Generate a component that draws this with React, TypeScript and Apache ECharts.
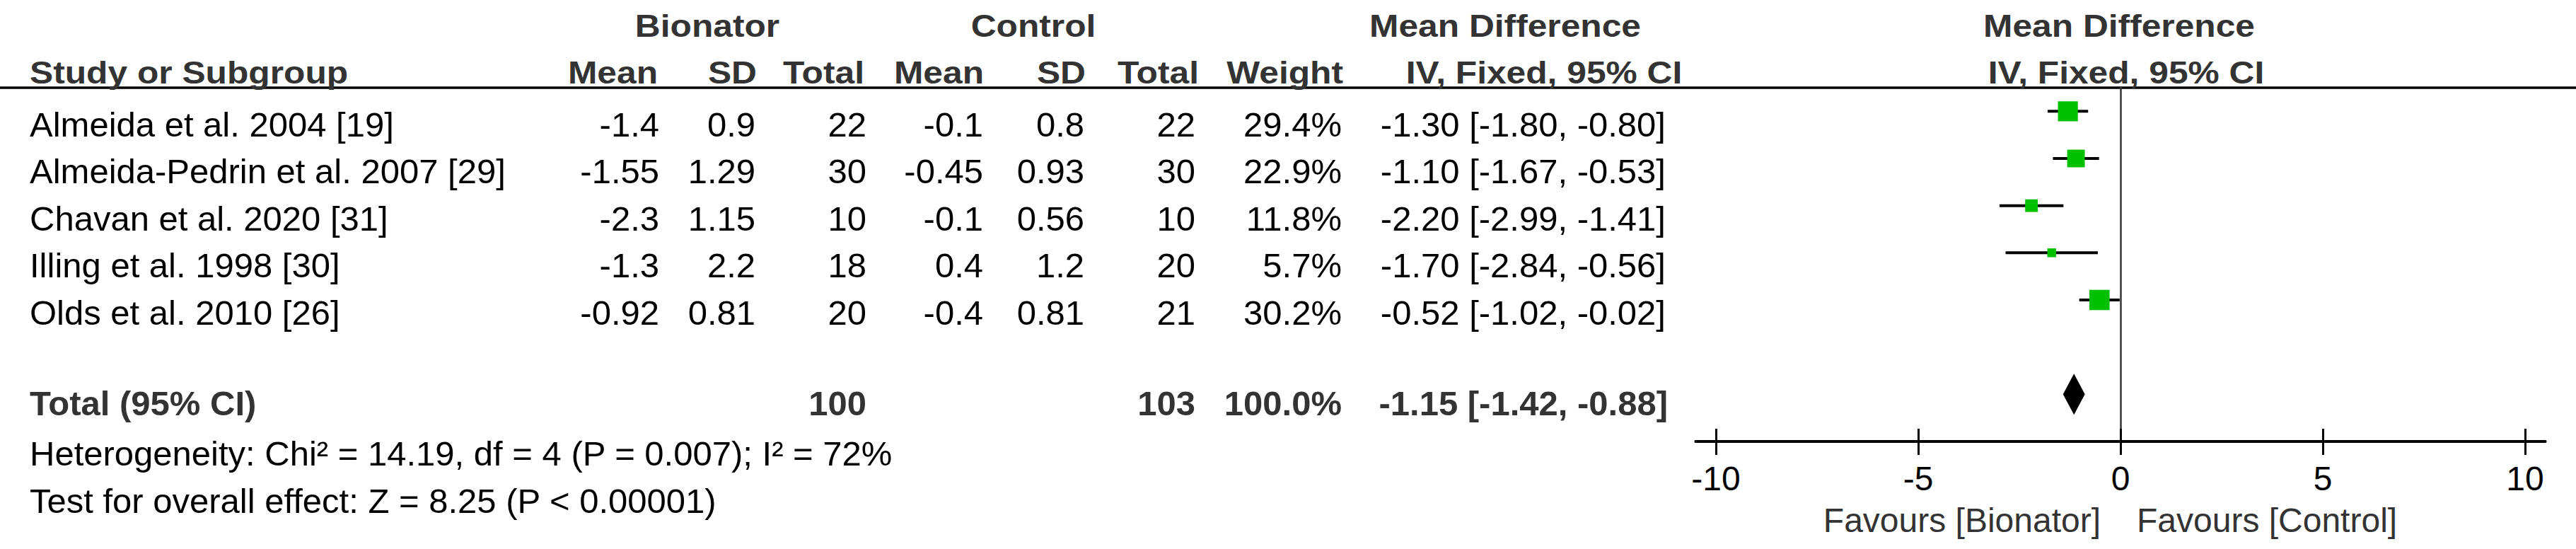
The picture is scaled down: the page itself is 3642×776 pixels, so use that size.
import React, { useEffect, useRef } from "react";
import * as echarts from "echarts";

const studies = [
  "Almeida et al. 2004 [19]",
  "Almeida-Pedrin et al. 2007 [29]",
  "Chavan et al. 2020 [31]",
  "Illing et al. 1998 [30]",
  "Olds et al. 2010 [26]",
];
const bionatorMean = ["-1.4", "-1.55", "-2.3", "-1.3", "-0.92"];
const bionatorSD = ["0.9", "1.29", "1.15", "2.2", "0.81"];
const bionatorTotal = [22, 30, 10, 18, 20];
const controlMean = ["-0.1", "-0.45", "-0.1", "0.4", "-0.4"];
const controlSD = ["0.8", "0.93", "0.56", "1.2", "0.81"];
const controlTotal = [22, 30, 10, 20, 21];
const weights = [29.4, 22.9, 11.8, 5.7, 30.2];
const md = [-1.3, -1.1, -2.2, -1.7, -0.52];
const ciLow = [-1.8, -1.67, -2.99, -2.84, -1.02];
const ciHigh = [-0.8, -0.53, -1.41, -0.56, -0.02];

const totalBionator = 100;
const totalControl = 103;
const totalWeight = "100.0%";
const totalMD = -1.15;
const totalLow = -1.42;
const totalHigh = -0.88;

const heterogeneityText = "Heterogeneity: Chi² = 14.19, df = 4 (P = 0.007); I² = 72%";
const overallText = "Test for overall effect: Z = 8.25 (P < 0.00001)";
const axisTicks = [-10, -5, 0, 5, 10];
const favoursLeft = "Favours [Bionator]";
const favoursRight = "Favours [Control]";

const FONT = "'Liberation Sans', Arial, Helvetica, sans-serif";

function txt(
  text: string,
  x: number,
  y: number,
  align: string,
  opts: { bold?: boolean; size?: number; fill?: string; scaleX?: number } = {}
) {
  const size = opts.size ?? 49;
  return {
    type: "text",
    x,
    y,
    scaleX: opts.scaleX ?? 1,
    silent: true,
    style: {
      text,
      x: 0,
      y: 0,
      fill: opts.fill ?? "#000",
      fontSize: size,
      fontFamily: FONT,
      fontWeight: opts.bold ? "bold" : "normal",
      align,
      verticalAlign: "middle",
      textAlign: align,
      textVerticalAlign: "middle",
    },
  };
}

const fmt2 = (v: number) => v.toFixed(2);

export default function App() {
  const ref = useRef<HTMLDivElement>(null);

  useEffect(() => {
    if (!ref.current) return;
    const chart = echarts.init(ref.current, undefined, { renderer: "svg" });

    const hdr = { bold: true, size: 44, fill: "#333", scaleX: 1.13 };
    const rowMid = (k: number) => 175.6 + 66.6 * k;
    const graphics: any[] = [];

    // header line
    graphics.push({
      type: "line",
      silent: true,
      shape: { x1: 0, y1: 124, x2: 3642, y2: 124 },
      style: { stroke: "#000", lineWidth: 3.5 },
    });

    // top headers
    graphics.push(txt("Bionator", 1000, 37.5, "center", hdr));
    graphics.push(txt("Control", 1461, 37.5, "center", hdr));
    graphics.push(txt("Mean Difference", 2128, 37.5, "center", hdr));
    graphics.push(txt("Mean Difference", 2996, 37.5, "center", hdr));

    // column headers
    const hy = 103;
    graphics.push(txt("Study or Subgroup", 42, hy, "left", hdr));
    graphics.push(txt("Mean", 930, hy, "right", hdr));
    graphics.push(txt("SD", 1070, hy, "right", hdr));
    graphics.push(txt("Total", 1222, hy, "right", hdr));
    graphics.push(txt("Mean", 1391, hy, "right", hdr));
    graphics.push(txt("SD", 1535, hy, "right", hdr));
    graphics.push(txt("Total", 1695, hy, "right", hdr));
    graphics.push(txt("Weight", 1899, hy, "right", hdr));
    graphics.push(txt("IV, Fixed, 95% CI", 2183, hy, "center", hdr));
    graphics.push(txt("IV, Fixed, 95% CI", 3006, hy, "center", hdr));

    // study rows
    studies.forEach((name, k) => {
      const y = rowMid(k);
      graphics.push(txt(name, 42, y, "left"));
      graphics.push(txt(bionatorMean[k], 932, y, "right"));
      graphics.push(txt(bionatorSD[k], 1068, y, "right"));
      graphics.push(txt(String(bionatorTotal[k]), 1225, y, "right"));
      graphics.push(txt(controlMean[k], 1390, y, "right"));
      graphics.push(txt(controlSD[k], 1533, y, "right"));
      graphics.push(txt(String(controlTotal[k]), 1690, y, "right"));
      graphics.push(txt(weights[k].toFixed(1) + "%", 1897, y, "right"));
      graphics.push(
        txt(`${fmt2(md[k])} [${fmt2(ciLow[k])}, ${fmt2(ciHigh[k])}]`, 2355, y, "right")
      );
    });

    // total row
    const ty = 569.6;
    const tot = { bold: true, size: 49, fill: "#333" };
    graphics.push(txt("Total (95% CI)", 42, ty, "left", tot));
    graphics.push(txt(String(totalBionator), 1225, ty, "right", tot));
    graphics.push(txt(String(totalControl), 1690, ty, "right", tot));
    graphics.push(txt(totalWeight, 1897, ty, "right", tot));
    graphics.push(
      txt(`${fmt2(totalMD)} [${fmt2(totalLow)}, ${fmt2(totalHigh)}]`, 2358, ty, "right", tot)
    );

    graphics.push(txt(heterogeneityText, 42, 640.6, "left"));
    graphics.push(txt(overallText, 42, 707.6, "left"));

    graphics.push(txt(favoursLeft, 2970, 735, "right", { size: 48, fill: "#333" }));
    graphics.push(txt(favoursRight, 3021, 735, "left", { size: 48, fill: "#333" }));

    const studyData = md.map((m, k) => [m, ciLow[k], ciHigh[k], weights[k], k]);
    const totalData = [[totalMD, totalLow, totalHigh, 100, 6]];

    chart.setOption({
      animation: false,
      backgroundColor: "#fff",
      grid: {
        left: 2397.4,
        top: 124,
        width: 1201.2,
        height: 500,
        containLabel: false,
        outerBoundsMode: "none",
      },
      xAxis: [
        {
          type: "value",
          min: -10.5,
          max: 10.5,
          position: "bottom",
          axisLine: { show: true, onZero: false, lineStyle: { color: "#000", width: 4 } },
          axisTick: {
            show: true,
            customValues: axisTicks,
            length: 19,
            lineStyle: { color: "#000", width: 3 },
          },
          axisLabel: {
            show: true,
            customValues: axisTicks,
            fontSize: 48,
            fontFamily: FONT,
            color: "#000",
            margin: 28,
            formatter: (v: number) => String(v),
          },
          splitLine: { show: false },
        },
        {
          type: "value",
          min: -10.5,
          max: 10.5,
          position: "bottom",
          axisLine: { show: false, onZero: false },
          axisTick: {
            show: true,
            inside: true,
            customValues: axisTicks,
            length: 18,
            lineStyle: { color: "#000", width: 3 },
          },
          axisLabel: { show: false },
          splitLine: { show: false },
        },
      ],
      yAxis: {
        type: "value",
        inverse: true,
        min: -0.5,
        max: 7,
        axisLine: { show: true, onZero: true, lineStyle: { color: "#333", width: 2.5 } },
        axisTick: { show: false },
        axisLabel: { show: false },
        splitLine: { show: false },
      },
      series: [
        {
          type: "custom",
          xAxisIndex: 0,
          data: studyData,
          renderItem: (params: any, api: any) => {
            const row = api.value(4);
            const c = api.coord([api.value(0), row]);
            const lo = api.coord([api.value(1), row]);
            const hi = api.coord([api.value(2), row]);
            const s = 5.2 * Math.sqrt(api.value(3));
            return {
              type: "group",
              children: [
                {
                  type: "line",
                  shape: { x1: lo[0], y1: lo[1], x2: hi[0], y2: hi[1] },
                  style: { stroke: "#000", lineWidth: 4 },
                },
                {
                  type: "rect",
                  shape: { x: c[0] - s / 2, y: c[1] - s / 2, width: s, height: s },
                  style: { fill: "#00C000" },
                },
              ],
            };
          },
        },
        {
          type: "custom",
          xAxisIndex: 0,
          data: totalData,
          renderItem: (params: any, api: any) => {
            const row = api.value(4);
            const c = api.coord([api.value(0), row]);
            const lo = api.coord([api.value(1), row]);
            const hi = api.coord([api.value(2), row]);
            const h = 29;
            return {
              type: "polygon",
              shape: {
                points: [
                  [lo[0], c[1]],
                  [c[0], c[1] - h],
                  [hi[0], c[1]],
                  [c[0], c[1] + h],
                ],
              },
              style: { fill: "#000" },
            };
          },
        },
      ],
      graphic: { elements: graphics },
    });

    return () => chart.dispose();
  }, []);

  return (
    <div
      ref={ref}
      style={{ position: "fixed", left: 0, top: 0, width: 3642, height: 776, background: "#fff" }}
    />
  );
}
